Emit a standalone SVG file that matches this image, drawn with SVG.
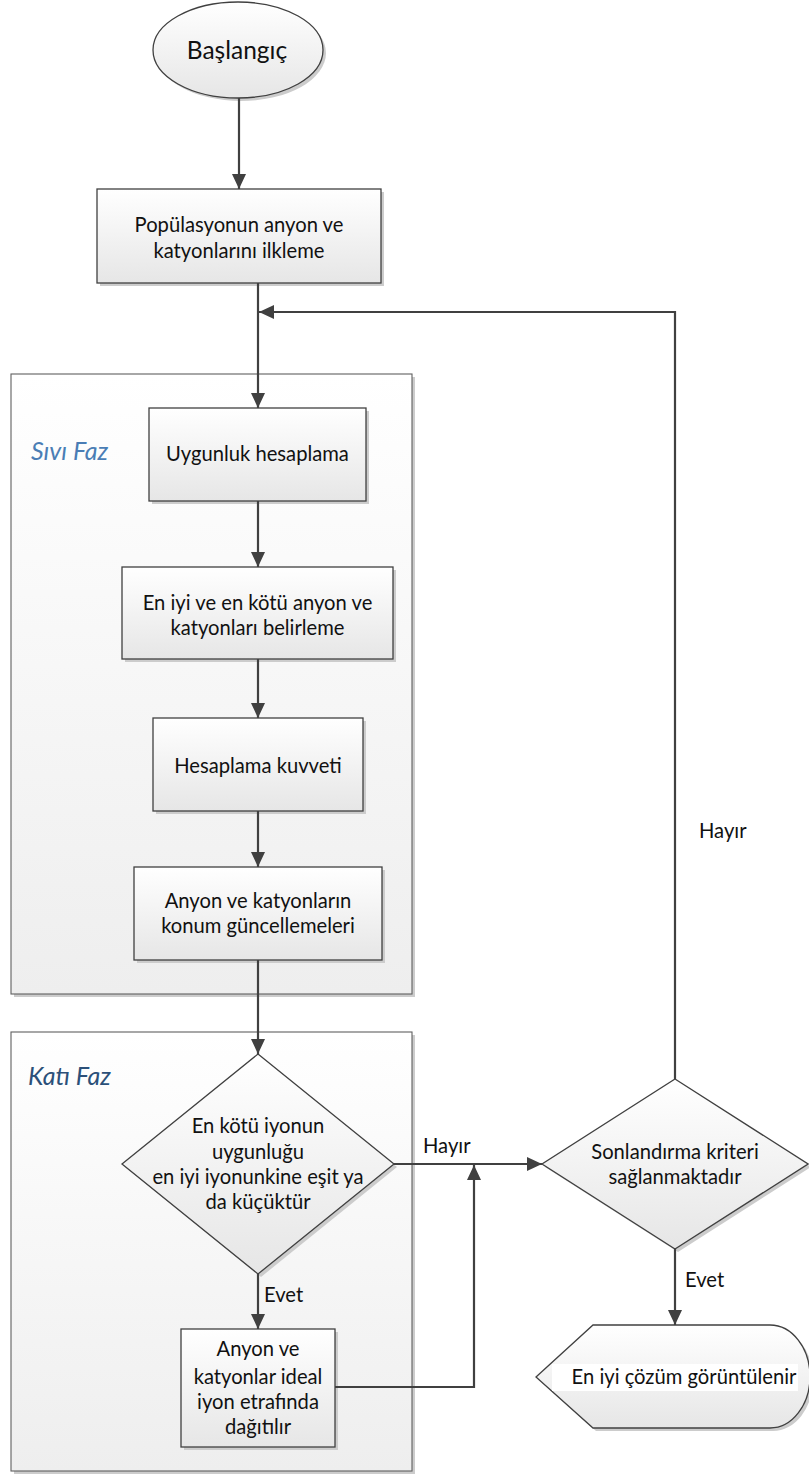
<svg xmlns="http://www.w3.org/2000/svg" width="809" height="1474" viewBox="0 0 809 1474">
<defs>
<linearGradient id="g" x1="0" y1="0" x2="0" y2="1"><stop offset="0" stop-color="#ffffff"/><stop offset="1" stop-color="#e6e6e6"/></linearGradient>
<linearGradient id="gc" x1="0" y1="0" x2="0" y2="1"><stop offset="0" stop-color="#ffffff"/><stop offset="1" stop-color="#eeeeee"/></linearGradient>
<marker id="ah" markerUnits="userSpaceOnUse" markerWidth="15" markerHeight="14" refX="15" refY="7" orient="auto"><path d="M0,0 L15,7 L0,14 Z" fill="#404040"/></marker>
<style>
.n{fill:url(#g);stroke:#404040;stroke-width:1.3}
.c{fill:url(#gc);stroke:#606060;stroke-width:1.1}
.sh{fill:#cccccc;stroke:none}
.t{font-family:Lato,"Liberation Sans",sans-serif;font-size:20.2px;fill:#111;text-anchor:middle}
.l{font-family:Lato,"Liberation Sans",sans-serif;font-size:20.2px;fill:#111}
.ph{font-family:Lato,"Liberation Sans",sans-serif;font-size:25px;font-style:italic}
.e{fill:none;stroke:#404040;stroke-width:2.2}
</style>
</defs>
<rect width="809" height="1474" fill="#fff"/>
<g id="sivi-faz">
<rect class="sh" x="14" y="377" width="401" height="620"/>
<rect class="c" x="11" y="374" width="401" height="620"/>
<text class="ph" x="31" y="460" fill="#4a7db5">Sıvı Faz</text>
</g>
<g id="kati-faz">
<rect class="sh" x="14" y="1035" width="401" height="439"/>
<rect class="c" x="11" y="1032" width="401" height="439"/>
<text class="ph" x="28" y="1085" fill="#2b5079">Katı Faz</text>
</g>
<g id="start">
<ellipse class="sh" cx="241" cy="53" rx="85" ry="48"/>
<ellipse class="n" cx="238" cy="50" rx="85" ry="48"/>
<text class="t" x="237" y="59" style="font-size:24.5px">Başlangıç</text>
</g>
<g id="init">
<rect class="sh" x="100" y="192" width="284" height="94"/>
<rect class="n" x="97" y="189" width="284" height="94"/>
<text class="t" x="239" y="232">Popülasyonun anyon ve</text>
<text class="t" x="239" y="258">katyonlarını ilkleme</text>
</g>
<g id="fitness">
<rect class="sh" x="152" y="411" width="217" height="93"/>
<rect class="n" x="149" y="408" width="217" height="93"/>
<text class="t" x="257.5" y="461">Uygunluk hesaplama</text>
</g>
<g id="best-worst">
<rect class="sh" x="125" y="570" width="271" height="92"/>
<rect class="n" x="122" y="567" width="271" height="92"/>
<text class="t" x="257.5" y="610">En iyi ve en kötü anyon ve</text>
<text class="t" x="257.5" y="635">katyonları belirleme</text>
</g>
<g id="force">
<rect class="sh" x="156" y="721" width="210" height="93"/>
<rect class="n" x="153" y="718" width="210" height="93"/>
<text class="t" x="258" y="773">Hesaplama kuvveti</text>
</g>
<g id="update">
<rect class="sh" x="137" y="870" width="248" height="93"/>
<rect class="n" x="134" y="867" width="248" height="93"/>
<text class="t" x="258" y="908">Anyon ve katyonların</text>
<text class="t" x="258" y="933">konum güncellemeleri</text>
</g>
<g id="decision1">
<polygon class="sh" points="261,1057 397,1167 261,1277 125,1167"/>
<polygon class="n" points="258,1054 394,1164 258,1274 122,1164"/>
<text class="t" x="258" y="1133">En kötü iyonun</text>
<text class="t" x="258" y="1159">uygunluğu</text>
<text class="t" x="258" y="1184">en iyi iyonunkine eşit ya</text>
<text class="t" x="258" y="1209">da küçüktür</text>
</g>
<g id="distribute">
<rect class="sh" x="184" y="1332" width="154" height="118"/>
<rect class="n" x="181" y="1329" width="154" height="118"/>
<text class="t" x="258" y="1356">Anyon ve</text>
<text class="t" x="258" y="1384">katyonlar ideal</text>
<text class="t" x="258" y="1409">iyon etrafında</text>
<text class="t" x="258" y="1434">dağıtılır</text>
</g>
<g id="decision2">
<polygon class="sh" points="678,1082 811,1167 678,1252 545,1167"/>
<polygon class="n" points="675,1079 808,1164 675,1249 542,1164"/>
<text class="t" x="675" y="1159">Sonlandırma kriteri</text>
<text class="t" x="675" y="1184">sağlanmaktadır</text>
</g>
<g id="display">
<path class="sh" d="M539,1380 L596,1328 L773,1328 A40,51.5 0 0 1 773,1431 L596,1431 Z"/>
<path class="n" d="M536,1377 L593,1325 L770,1325 A40,51.5 0 0 1 770,1428 L593,1428 Z"/>
<rect x="552" y="1364" width="246" height="27" fill="#fff"/>
<text class="t" x="684" y="1384">En iyi çözüm görüntülenir</text>
</g>
<g id="connectors">
<path class="e" d="M239,98 V189" marker-end="url(#ah)"/>
<path class="e" d="M258,283 V408" marker-end="url(#ah)"/>
<path class="e" d="M675,1079 V312 H259" marker-end="url(#ah)"/>
<path class="e" d="M258,501 V567" marker-end="url(#ah)"/>
<path class="e" d="M258,659 V718" marker-end="url(#ah)"/>
<path class="e" d="M258,811 V867" marker-end="url(#ah)"/>
<path class="e" d="M258,960 V1054" marker-end="url(#ah)"/>
<path class="e" d="M394,1164 H542" marker-end="url(#ah)"/>
<path class="e" d="M258,1274 V1329" marker-end="url(#ah)"/>
<path class="e" d="M335,1387 H474 V1165" marker-end="url(#ah)"/>
<path class="e" d="M675,1249 V1325" marker-end="url(#ah)"/>
<text class="l" x="423" y="1153">Hayır</text>
<text class="l" x="264" y="1302">Evet</text>
<text class="l" x="699" y="838">Hayır</text>
<text class="l" x="685" y="1287">Evet</text>
</g>
</svg>
